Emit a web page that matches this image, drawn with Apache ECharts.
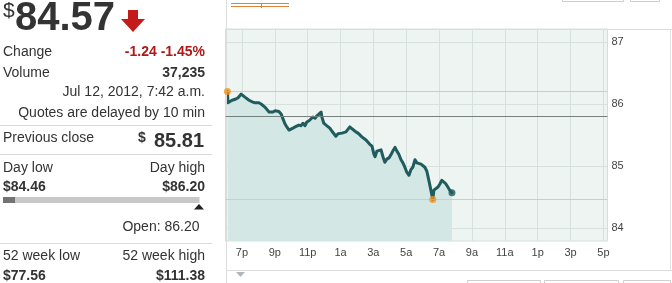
<!DOCTYPE html>
<html>
<head>
<meta charset="utf-8">
<script src="https://cdn.jsdelivr.net/npm/echarts@6/dist/echarts.min.js"></script>
<style>
html,body{margin:0;padding:0;background:#fff;}
#chart{width:672px;height:283px;}
</style>
</head>
<body>
<div id="chart"></div>
<script>
// ---- Data ----
// minutes after 6:00 p.m., Jul 11 2012
var times = [7,9,16,24,31,38,46,53,57,64,71,78,86,93,100,108,115,122,130,137,144,151,159,166,173,181,188,195,203,210,217,224,232,239,246,254,261,268,276,283,290,297,305,312,319,327,334,341,349,352,359,367,374,381,389,396,403,411,418,425,432,440,447,454,462,469,476,484,491,498,505,513,520,527,535,542,546,553,560,568,575,582,589,597,604,611,619,626,633,641,648,655,662,670,677,684,692,699,706,714,721,728,735,743,750,757,761,768,776,783,790,797,805,812,819,827];
var prices = [86.20,86.02,86.05,86.06,86.05,86.08,86.10,86.13,86.16,86.15,86.11,86.08,86.06,86.05,86.03,86.02,86.00,86.02,86.00,85.97,85.95,85.92,85.87,85.90,85.87,85.89,85.87,85.88,85.84,85.76,85.68,85.63,85.58,85.56,85.61,85.63,85.62,85.66,85.65,85.69,85.65,85.71,85.73,85.76,85.79,85.77,85.81,85.84,85.87,85.79,85.69,85.66,85.63,85.61,85.56,85.53,85.48,85.52,85.50,85.53,85.52,85.55,85.58,85.63,85.60,85.58,85.55,85.53,85.50,85.47,85.44,85.42,85.39,85.35,85.32,85.19,85.15,85.24,85.23,85.26,85.15,85.06,85.11,85.13,85.18,85.24,85.30,85.24,85.19,85.10,85.05,84.98,84.90,84.85,84.94,84.98,85.10,85.05,85.02,85.03,85.02,84.98,84.92,84.76,84.61,84.46,84.61,84.63,84.66,84.71,84.77,84.79,84.71,84.66,84.61,84.57];

var xTickMinutes = [60,180,300,420,540,660,780,900,1020,1140,1260,1380];
var xTickLabels = ['7p','9p','11p','1a','3a','5a','7a','9a','11a','1p','3p','5p'];
var yTickValues = [84,85,86,87];

var dayHigh = 86.20;
var dayLow = 84.46;
var prevClose = 85.81;
var dayLowTime = 757;

var quote = {
  last: '84.57', change: '-1.24 -1.45%', volume: '37,235',
  time: 'Jul 12, 2012, 7:42 a.m.', delay: 'Quotes are delayed by 10 min',
  prevClose: '85.81', dayLow: '$84.46', dayHigh: '$86.20', open: 'Open: 86.20',
  wkLow: '$77.56', wkHigh: '$111.38'
};

// ---- Chart ----
var FONT = "'Liberation Sans', Arial, sans-serif";
var chart = echarts.init(document.getElementById('chart'), null, {renderer: 'canvas'});

var lineData = times.map(function (t, i) { return [t, prices[i]]; });

function txt(text, x, y, size, opts) {
  opts = opts || {};
  return {
    type: 'text', silent: true, z: 10,
    style: {
      text: text, x: x, y: y,
      font: (opts.bold ? 'bold ' : '') + size + 'px ' + FONT,
      fill: opts.color || '#333',
      align: opts.align || 'left',
      verticalAlign: 'middle'
    }
  };
}
function hline(x1, x2, y, color) {
  return { type: 'line', silent: true, z: 5, shape: {x1: x1, y1: y, x2: x2, y2: y}, style: {stroke: color, lineWidth: 1} };
}
function vline(x, y1, y2, color) {
  return { type: 'line', silent: true, z: 5, shape: {x1: x, y1: y1, x2: x, y2: y2}, style: {stroke: color, lineWidth: 1} };
}

var graphics = [
  // Left quote panel
  txt('$', 3, 11, 21),
  txt(quote.last, 15, 19, 40, {bold: true}),
  { type: 'polygon', silent: true, z: 10,
    shape: {points: [[128,10],[138,10],[138,19],[145,19],[133,32],[121,19],[128,19]]},
    style: {fill: '#c31a1a'} },
  txt('Change', 3, 52.5, 14),
  txt(quote.change, 205, 52.5, 14, {bold: true, align: 'right', color: '#b01818'}),
  txt('Volume', 3, 72.7, 14),
  txt(quote.volume, 205, 72.7, 14, {bold: true, align: 'right'}),
  txt(quote.time, 205, 92, 14, {align: 'right'}),
  txt(quote.delay, 205, 113.3, 14, {align: 'right'}),
  hline(0, 212, 125.5, '#d9d9d9'),
  txt('Previous close', 3, 138.3, 14),
  txt('$', 138, 138.5, 14, {bold: true}),
  txt(quote.prevClose, 204, 141.5, 20, {bold: true, align: 'right'}),
  hline(0, 212, 154.5, '#d9d9d9'),
  txt('Day low', 3, 168, 14),
  txt('Day high', 205, 168, 14, {align: 'right'}),
  txt(quote.dayLow, 3, 187, 14, {bold: true}),
  txt(quote.dayHigh, 205, 187, 14, {bold: true, align: 'right'}),
  { type: 'rect', silent: true, z: 10, shape: {x: 3, y: 197, width: 196.5, height: 6}, style: {fill: '#c8c8c8'} },
  { type: 'rect', silent: true, z: 11, shape: {x: 3, y: 197, width: 12, height: 6}, style: {fill: '#737373'} },
  { type: 'polygon', silent: true, z: 10, shape: {points: [[194,209.5],[204,209.5],[199,204]]}, style: {fill: '#222'} },
  txt(quote.open, 199.5, 226.7, 14, {align: 'right'}),
  hline(0, 212, 243.5, '#d9d9d9'),
  txt('52 week low', 3, 256, 14),
  txt('52 week high', 205, 256, 14, {align: 'right'}),
  txt(quote.wkLow, 3, 276.3, 14, {bold: true}),
  txt(quote.wkHigh, 205, 276.3, 14, {bold: true, align: 'right'}),

  // Chart panel frame
  vline(226.5, 0, 283, '#dcdcdc'),
  hline(226, 672, 29.5, '#dcdcdc'),
  hline(226, 672, 270.5, '#dcdcdc'),
  vline(670.5, 29, 270, '#e4e4e4'),
  // cut-off tab/legend at top
  hline(231, 289, 3.5, '#d9823b'),
  hline(231, 289, 6.5, '#d9823b'),
  vline(261.5, 3, 8, '#d9823b'),
  // cut-off buttons top right
  { type: 'rect', silent: true, z: 5, shape: {x: 562.5, y: -20, width: 61, height: 21.5}, style: {fill: 'none', stroke: '#cfcfcf'} },
  { type: 'rect', silent: true, z: 5, shape: {x: 630.5, y: -20, width: 29, height: 21.5}, style: {fill: 'none', stroke: '#cfcfcf'} },
  // cut-off buttons bottom
  { type: 'rect', silent: true, z: 5, shape: {x: 467.5, y: 280.5, width: 73, height: 20}, style: {fill: 'none', stroke: '#cfcfcf'} },
  { type: 'rect', silent: true, z: 5, shape: {x: 544.5, y: 280.5, width: 74, height: 20}, style: {fill: 'none', stroke: '#cfcfcf'} },
  { type: 'rect', silent: true, z: 5, shape: {x: 623.5, y: 280.5, width: 47, height: 20}, style: {fill: 'none', stroke: '#cfcfcf'} },
  // range slider handle
  { type: 'polygon', silent: true, z: 5, shape: {points: [[236,272],[245,272],[240.5,277]]}, style: {fill: '#aeb8bc'} }
];

var option = {
  animation: false,
  backgroundColor: '#ffffff',
  textStyle: {fontFamily: FONT},
  grid: {
    left: 225.5, top: 29, width: 382, height: 212,
    show: true, backgroundColor: '#eef4f1', borderColor: '#d6dedb', borderWidth: 1
  },
  xAxis: {
    type: 'value', min: 0, max: 1395,
    axisLine: {show: false},
    axisTick: {show: false, customValues: xTickMinutes},
    axisLabel: {
      customValues: xTickMinutes,
      color: '#444', fontSize: 11, fontFamily: FONT, margin: 6,
      formatter: function (v) { var i = xTickMinutes.indexOf(v); return i >= 0 ? xTickLabels[i] : ''; }
    },
    splitLine: {show: true, lineStyle: {color: '#d6e1dc', width: 1}}
  },
  yAxis: {
    type: 'value', position: 'right', min: 83.79, max: 87.2097,
    axisLine: {show: false},
    axisTick: {show: false, customValues: yTickValues},
    axisLabel: {
      customValues: yTickValues,
      color: '#444', fontSize: 11, fontFamily: FONT, margin: 4,
      padding: [4, 0, 0, 0],
      formatter: function (v) { return String(v); }
    },
    splitLine: {show: true, lineStyle: {color: '#d6e1dc', width: 1}}
  },
  series: [
    {
      type: 'line', data: lineData, showSymbol: false, symbol: 'none',
      lineStyle: {color: '#205b5e', width: 3, join: 'round', cap: 'round'},
      itemStyle: {color: '#205b5e'},
      areaStyle: {color: '#d3e7e4', opacity: 1},
      z: 3,
      markLine: {
        silent: true, symbol: ['none', 'none'], label: {show: false},
        animation: false,
        data: [
          {yAxis: dayHigh, lineStyle: {color: '#f0c596', width: 1, type: 'solid'}},
          {yAxis: dayLow, lineStyle: {color: '#f0c596', width: 1, type: 'solid'}},
          {yAxis: prevClose, lineStyle: {color: '#76807f', width: 1, type: 'solid'}}
        ]
      }
    },
    {
      type: 'scatter', z: 4, symbol: 'circle', symbolSize: 7,
      itemStyle: {color: '#205b5e'},
      data: [[times[times.length - 1], prices[prices.length - 1]]]
    },
    {
      type: 'scatter', z: 5, symbol: 'circle', symbolSize: 7,
      itemStyle: {color: '#f0921e'},
      data: [[times[0], dayHigh], [dayLowTime, dayLow]]
    }
  ],
  graphic: graphics
};
chart.setOption(option);
</script>
</body>
</html>
